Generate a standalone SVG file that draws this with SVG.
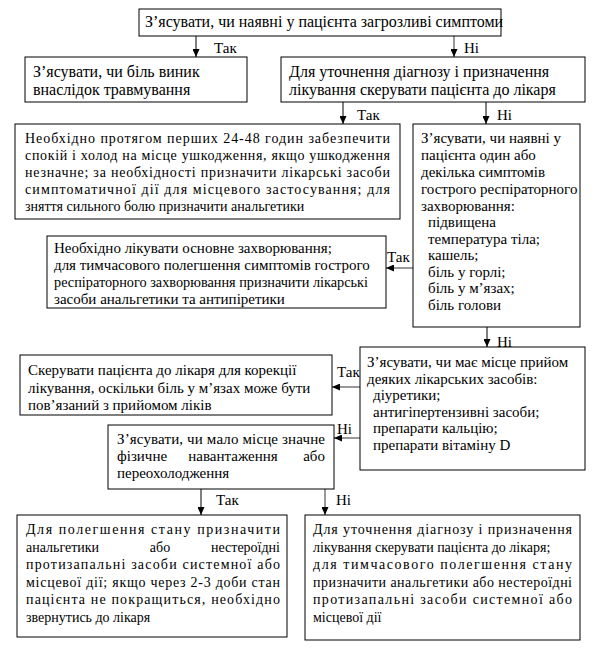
<svg xmlns="http://www.w3.org/2000/svg" width="606" height="668" viewBox="0 0 606 668">
<style>
text{font-family:"Liberation Serif","Times New Roman",serif;font-size:15px;fill:#000}
.l{font-size:16px}
.s{font-size:14px}
.box{fill:#fff;stroke:#000;stroke-width:1}
.c{fill:none;stroke:#000;stroke-width:1}
.g{stroke:#6e6e6e;stroke-width:1.4}
</style>
<defs>
<marker id="ah" markerUnits="userSpaceOnUse" markerWidth="8" markerHeight="7" refX="8" refY="3.5" orient="auto">
<path d="M0,0 L8,3.5 L0,7 z" fill="#000"/>
</marker>
</defs>
<rect width="606" height="668" fill="#fff"/>
<g id="connectors">
<path class="c" d="M196,36 V57" marker-end="url(#ah)"/>
<path class="c g" d="M454,36 V57" marker-end="url(#ah)"/>
<path class="c" d="M343,102 V124" marker-end="url(#ah)"/>
<path class="c" d="M486,102 V124" marker-end="url(#ah)"/>
<path class="c g" d="M413,268 H386" marker-end="url(#ah)"/>
<path class="c" d="M487,327 V347" marker-end="url(#ah)"/>
<path class="c g" d="M360,387 H332" marker-end="url(#ah)"/>
<path class="c g" d="M360,438 H334" marker-end="url(#ah)"/>
<path class="c" d="M201,489 V515" marker-end="url(#ah)"/>
<path class="c g" d="M325,489 V515" marker-end="url(#ah)"/>
<text x="214" y="53">Так</text>
<text x="464" y="53">Ні</text>
<text x="357" y="120">Так</text>
<text x="497" y="120">Ні</text>
<text x="387" y="262">Так</text>
<text x="497" y="347">Ні</text>
<text x="337" y="377">Так</text>
<text x="337" y="434">Ні</text>
<text x="216" y="505">Так</text>
<text x="336" y="505">Ні</text>
</g>
<g id="n1">
<rect class="box" x="139" y="9" width="362" height="27"/>
<text class="l" x="145" y="27">З’ясувати, чи наявні у пацієнта загрозливі симптоми</text>
</g>
<g id="n2">
<rect class="box" x="25" y="57" width="222" height="45"/>
<text class="l" x="33" y="77">З’ясувати, чи біль виник</text>
<text class="l" x="33" y="95">внаслідок травмування</text>
</g>
<g id="n3">
<rect class="box" x="281" y="57" width="304" height="45"/>
<text class="l" x="289" y="77">Для уточнення діагнозу і призначення</text>
<text class="l" x="289" y="95">лікування скерувати пацієнта до лікаря</text>
</g>
<g id="n4">
<rect class="box" x="15" y="124" width="385" height="95"/>
<text class="s" x="25" y="143" textLength="365" lengthAdjust="spacing">Необхідно протягом перших 24-48 годин забезпечити</text>
<text class="s" x="25" y="160" textLength="365" lengthAdjust="spacing">спокій і холод на місце ушкодження, якщо ушкодження</text>
<text class="s" x="25" y="177" textLength="365" lengthAdjust="spacing">незначне; за необхідності призначити лікарські засоби</text>
<text class="s" x="25" y="194" textLength="365" lengthAdjust="spacing">симптоматичної дії для місцевого застосування; для</text>
<text class="s" x="25" y="211">зняття сильного болю призначити анальгетики</text>
</g>
<g id="n5">
<rect class="box" x="413" y="124" width="167" height="203"/>
<text x="421" y="143">З’ясувати, чи наявні у</text>
<text x="421" y="160">пацієнта один або</text>
<text x="421" y="177">декілька симптомів</text>
<text x="421" y="194">гострого респіраторного</text>
<text x="421" y="211">захворювання:</text>
<text x="428" y="227">підвищена</text>
<text x="428" y="243.5">температура тіла;</text>
<text x="428" y="260">кашель;</text>
<text x="428" y="276.5">біль у горлі;</text>
<text x="428" y="293">біль у м’язах;</text>
<text x="428" y="309.5">біль голови</text>
</g>
<g id="n6">
<rect class="box" x="47" y="236" width="339" height="72"/>
<text x="54" y="253">Необхідно лікувати основне захворювання;</text>
<text x="54" y="270">для тимчасового полегшення симптомів гострого</text>
<text x="54" y="287" textLength="314" lengthAdjust="spacingAndGlyphs">респіраторного захворювання призначити лікарські</text>
<text x="54" y="304">засоби анальгетики та антипіретики</text>
</g>
<g id="n7">
<rect class="box" x="360" y="347" width="225" height="123"/>
<text x="367" y="367">З’ясувати, чи має місце прийом</text>
<text x="367" y="384">деяких лікарських засобів:</text>
<text x="373" y="400">діуретики;</text>
<text x="373" y="416.5">антигіпертензивні засоби;</text>
<text x="373" y="433">препарати кальцію;</text>
<text x="373" y="449.5">препарати вітаміну D</text>
</g>
<g id="n8">
<rect class="box" x="20" y="355" width="312" height="60"/>
<text x="28" y="375">Скерувати пацієнта до лікаря для корекції</text>
<text x="28" y="393">лікування, оскільки біль у м’язах може бути</text>
<text x="28" y="410">пов’язаний з прийомом ліків</text>
</g>
<g id="n9">
<rect class="box" x="108" y="425" width="226" height="64"/>
<text x="117" y="444" textLength="208" lengthAdjust="spacing">З’ясувати, чи мало місце значне</text>
<text x="117" y="461">фізичне</text>
<text x="233" y="461" text-anchor="middle">навантаження</text>
<text x="325" y="461" text-anchor="end">або</text>
<text x="117" y="478">переохолодження</text>
</g>
<g id="n10">
<rect class="box" x="17" y="515" width="270" height="122"/>
<text class="s" x="26" y="534" textLength="254" lengthAdjust="spacing">Для полегшення стану призначити</text>
<text class="s" x="26" y="552">анальгетики</text>
<text class="s" x="160" y="552" text-anchor="middle">або</text>
<text class="s" x="280" y="552" text-anchor="end">нестероїдні</text>
<text class="s" x="26" y="569" textLength="254" lengthAdjust="spacing">протизапальні засоби системної або</text>
<text class="s" x="26" y="587" textLength="254" lengthAdjust="spacing">місцевої дії; якщо через 2-3 доби стан</text>
<text class="s" x="26" y="604" textLength="254" lengthAdjust="spacing">пацієнта не покращиться, необхідно</text>
<text class="s" x="26" y="622">звернутись до лікаря</text>
</g>
<g id="n11">
<rect class="box" x="305" y="515" width="275" height="125"/>
<text class="s" x="313" y="534" textLength="259" lengthAdjust="spacing">Для уточнення діагнозу і призначення</text>
<text class="s" x="313" y="552">лікування скерувати пацієнта до лікаря;</text>
<text class="s" x="313" y="569" textLength="259" lengthAdjust="spacing">для тимчасового полегшення стану</text>
<text class="s" x="313" y="587" textLength="259" lengthAdjust="spacing">призначити анальгетики або нестероїдні</text>
<text class="s" x="313" y="604" textLength="259" lengthAdjust="spacing">протизапальні засоби системної або</text>
<text class="s" x="313" y="622">місцевої дії</text>
</g>
</svg>
